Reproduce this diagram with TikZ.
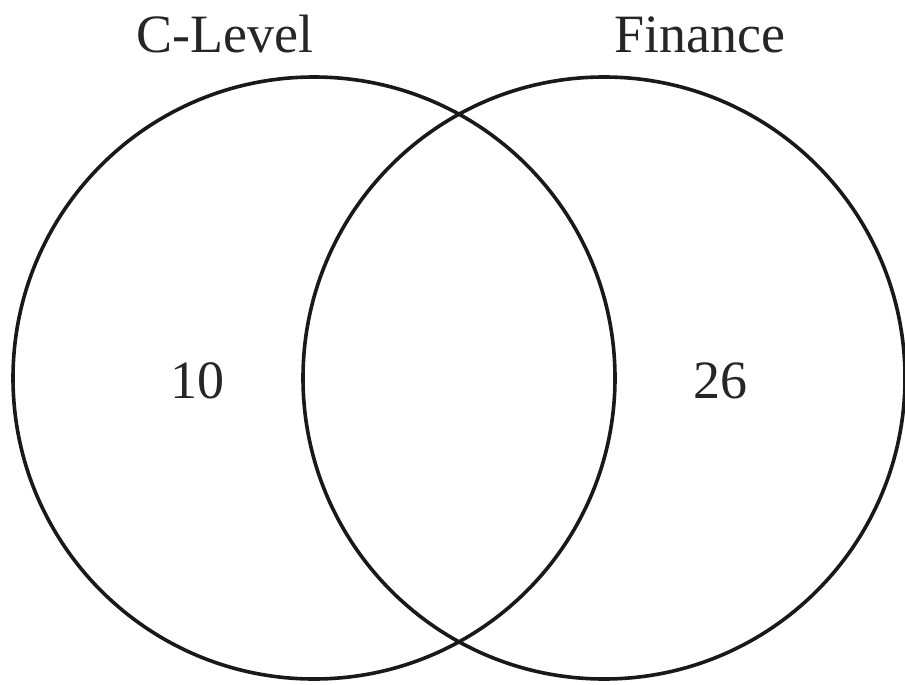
\documentclass[tikz,border=0pt]{standalone}
\usepackage{fontspec}
\setmainfont{Liberation Serif}
\begin{document}
\begin{tikzpicture}[x=1pt,y=-1pt,
  setcircle/.style={circle,draw=black!90,line width=3.6pt,inner sep=0pt,minimum size=602pt},
  setlabel/.style={font=\fontsize{54}{60}\selectfont,text=black!85,anchor=base,inner sep=0pt}]
\useasboundingbox (0,0) rectangle (905,685);
\node[setcircle] (cl) at (314,378) {};
\node[setcircle] (fi) at (604,378) {};
\node[setlabel] (tcl) at (225,53) {C-Level};
\node[setlabel] (tfi) at (700,53) {Finance};
\node[setlabel] (ncl) at (197,398) {10};
\node[setlabel] (nfi) at (720,398) {26};
\end{tikzpicture}
\end{document}
